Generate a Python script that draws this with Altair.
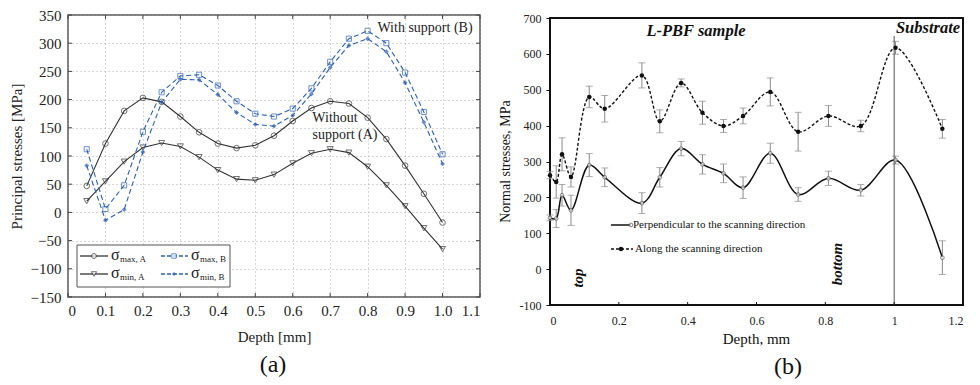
import altair as alt
import pandas as pd

FONT = "Liberation Serif"

# ---------------- Panel (a) data ----------------
depth_a = [0.05, 0.10, 0.15, 0.20, 0.25, 0.30, 0.35, 0.40, 0.45, 0.50,
           0.55, 0.60, 0.65, 0.70, 0.75, 0.80, 0.85, 0.90, 0.95, 1.00]
smax_A = [47, 122, 180, 203, 196, 170, 142, 122, 114, 119,
          136, 162, 185, 197, 193, 168, 130, 83, 33, -18]
smin_A = [20, 55, 90, 115, 123, 117, 98, 75, 59, 57,
          67, 87, 105, 112, 106, 81, 48, 11, -28, -65]
smax_B = [112, 6, 48, 143, 213, 242, 244, 225, 197, 175,
          170, 184, 220, 267, 308, 322, 300, 248, 178, 103]
smin_B = [83, -14, 5, 107, 195, 236, 235, 209, 177, 156,
          153, 172, 210, 257, 296, 308, 285, 230, 160, 86]
xticks_a = [0, 0.1, 0.2, 0.3, 0.4, 0.5, 0.6, 0.7, 0.8, 0.9, 1.0, 1.1]
yticks_a = [-150, -100, -50, 0, 50, 100, 150, 200, 250, 300, 350]

# ---------------- Panel (b) data ----------------
depth_b = [0, 0.018, 0.035, 0.061, 0.114, 0.159, 0.267, 0.319, 0.381, 0.443,
           0.504, 0.561, 0.64, 0.721, 0.809, 0.903, 1.004, 1.14]
perp = [143, 141, 206, 164, 290, 256, 184, 256, 336, 292,
        267, 227, 323, 208, 253, 220, 304, 32]
perp_err = [8, 25, 30, 42, 32, 26, 29, 27, 20, 27,
            26, 30, 28, 19, 20, 16, 11, 47]
along = [262, 243, 320, 257, 480, 447, 540, 412, 519, 436,
         399, 427, 494, 383, 427, 399, 617, 391]
along_err = [10, 45, 46, 28, 30, 37, 35, 32, 11, 32,
             18, 22, 39, 54, 29, 16, 18, 26]
substrate_depth = [1.0]
substrate_top = [650]
substrate_bottom = [-100]
xticks_b = [0, 0.2, 0.4, 0.6, 0.8, 1, 1.2]
yticks_b = [-100, 0, 100, 200, 300, 400, 500, 600, 700]

WA, HA = 412, 282
WB, HB = 413, 290      # panel (b) group; its frame starts OB px lower
OB = 3
BLUE = "#2b5fb4"
DARK = "#333333"

one = pd.DataFrame({"k": [0]})


def px_rule(x1, x2, y1, y2, **kw):
    return alt.Chart(one).mark_rule(**kw).encode(
        x=alt.value(x1), x2=alt.value(x2), y=alt.value(y1), y2=alt.value(y2))


def px_point(x, y, **kw):
    return alt.Chart(one).mark_point(**kw).encode(x=alt.value(x), y=alt.value(y))


def px_text(x, y, txt, **kw):
    return alt.Chart(one).mark_text(text=txt, font=FONT, **kw).encode(
        x=alt.value(x), y=alt.value(y))


# ---------------- Panel (a) ----------------
df_a = pd.DataFrame({"depth": depth_a, "smax_A": smax_A, "smin_A": smin_A,
                     "smax_B": smax_B, "smin_B": smin_B})

xa_scale = alt.Scale(domain=[0, 1.1], nice=False)
ya_scale = alt.Scale(domain=[-150, 350], nice=False)

xa_axis = alt.Axis(values=xticks_a, title="Depth [mm]", grid=True, gridDash=[1, 3],
                   gridColor="#999999", gridWidth=0.8, ticks=False, tickSize=0,
                   domain=False, labelFont=FONT, labelFontSize=15, labelColor="#222",
                   labelPadding=6, labelOverlap=False, titleFont=FONT, titleFontSize=15,
                   titleFontWeight="normal", titleColor="#222", titleX=206, titleY=39,
                   titleBaseline="middle", titleAlign="center",
                   labelExpr="datum.value == 0 ? '0' : format(datum.value, '.1f')")
ya_axis = alt.Axis(values=yticks_a, title="Principal stresses [MPa]", grid=True,
                   gridDash=[1, 3], gridColor="#999999", gridWidth=0.8, ticks=False,
                   tickSize=0, domain=False, labelFont=FONT, labelFontSize=15,
                   labelColor="#222", labelPadding=7, labelOverlap=False,
                   titleFont=FONT, titleFontSize=15,
                   titleFontWeight="normal", titleColor="#222", titleX=-52, titleY=141,
                   titleAngle=270, titleAlign="center", titleBaseline="middle",
                   format="d")


def xa():
    return alt.X("depth:Q", scale=xa_scale, axis=xa_axis)


def ya(field):
    return alt.Y(f"{field}:Q", scale=ya_scale, axis=ya_axis)


base_a = alt.Chart(df_a)
layers_a = []
styles = [
    ("smax_A", DARK, None, "circle", False, 32),
    ("smin_A", DARK, None, "triangle-down", False, 36),
    ("smax_B", BLUE, [5, 3], "square", False, 26),
    ("smin_B", BLUE, [5, 3], "diamond", True, 24),
]
for field, col, dash, shape, filled, size in styles:
    lkw = dict(color=col, strokeWidth=1.1)
    if dash:
        lkw["strokeDash"] = dash
    layers_a.append(base_a.mark_line(**lkw).encode(x=xa(), y=ya(field)))
    pkw = dict(shape=shape, size=size, strokeWidth=1, color=col, filled=filled)
    if not filled:
        pkw["fill"] = "transparent"
    layers_a.append(base_a.mark_point(**pkw).encode(x=xa(), y=ya(field)))

# inner ticks on all sides
xt_df = pd.DataFrame({"t": xticks_a})
yt_df = pd.DataFrame({"t": yticks_a})
tick_col = "#444"
layers_a += [
    alt.Chart(xt_df).mark_rule(color=tick_col, strokeWidth=1).encode(
        x=alt.X("t:Q", scale=xa_scale, axis=xa_axis), y=alt.value(HA - 4), y2=alt.value(HA)),
    alt.Chart(xt_df).mark_rule(color=tick_col, strokeWidth=1).encode(
        x=alt.X("t:Q", scale=xa_scale, axis=xa_axis), y=alt.value(0), y2=alt.value(4)),
    alt.Chart(yt_df).mark_rule(color=tick_col, strokeWidth=1).encode(
        y=alt.Y("t:Q", scale=ya_scale, axis=ya_axis), x=alt.value(0), x2=alt.value(4)),
    alt.Chart(yt_df).mark_rule(color=tick_col, strokeWidth=1).encode(
        y=alt.Y("t:Q", scale=ya_scale, axis=ya_axis), x=alt.value(WA - 4), x2=alt.value(WA)),
]

# annotations
layers_a += [
    px_text(357, 13, "With support (B)", fontSize=14, color="#222"),
    px_text(267, 103, "Without", fontSize=14, color="#222"),
    px_text(277, 120, "support (A)", fontSize=14, color="#222"),
    px_text(205, 350, "(a)", fontSize=24, color="#111"),
]

# legend (a)
leg = [
    alt.Chart(one).mark_rect(fill="white", stroke="#555", strokeWidth=1).encode(
        x=alt.value(9), x2=alt.value(162), y=alt.value(230), y2=alt.value(272)),
]
rows = [241, 259]
entries = [
    (12, 40, 26, rows[0], DARK, None, "circle", False, 24, "max, A"),
    (12, 40, 26, rows[1], DARK, None, "triangle-down", False, 28, "min, A"),
    (93, 120, 106, rows[0], BLUE, [4, 2], "square", False, 20, "max, B"),
    (93, 120, 106, rows[1], BLUE, [4, 2], "diamond", True, 18, "min, B"),
]
for x1, x2, xm, yy, col, dash, shape, filled, size, sub in entries:
    rkw = dict(color=col, strokeWidth=1.3)
    if dash:
        rkw["strokeDash"] = dash
    leg.append(px_rule(x1, x2, yy, yy, **rkw))
    pkw = dict(shape=shape, size=size, color=col, filled=filled, strokeWidth=1)
    if not filled:
        pkw["fill"] = "white"
    leg.append(px_point(xm, yy, **pkw))
    leg.append(px_text(x2 + 3, yy - 1, "σ", fontSize=16, align="left", color="#222"))
    leg.append(px_text(x2 + 12, yy + 3, sub, fontSize=9, align="left", color="#222"))
layers_a += leg

chart_a = alt.layer(*layers_a).properties(
    width=WA, height=HA,
    view=alt.ViewBackground(stroke="#555555", strokeWidth=1.5))

# ---------------- Panel (b) ----------------
df_b = pd.DataFrame({"depth": depth_b, "perp": perp, "perp_err": perp_err,
                     "along": along, "along_err": along_err})
df_sub = pd.DataFrame({"depth": substrate_depth, "top": substrate_top,
                       "bottom": substrate_bottom})

xb_scale = alt.Scale(domain=[0, 1.2], nice=False)
yb_scale = alt.Scale(domain=[-100, 700], nice=False, range=[HB, OB])
xb_axis = alt.Axis(values=xticks_b, title="Depth, mm", grid=False, ticks=False,
                   tickSize=0, domain=False, labelFont=FONT, labelFontSize=12,
                   labelColor="#222", labelPadding=10, labelOverlap=False,
                   titleFont=FONT, titleFontSize=15,
                   titleFontWeight="normal", titleColor="#111", titleX=206, titleY=33,
                   titleAlign="center", titleBaseline="middle",
                   labelExpr="'' + datum.value")
yb_axis = alt.Axis(values=yticks_b, title="Normal stresses, MPa", grid=False,
                   ticks=True, tickSize=4, tickColor="#111", domain=False,
                   labelFont=FONT, labelFontSize=12, labelColor="#222", labelPadding=5,
                   labelOverlap=False,
                   titleFont=FONT, titleFontSize=14, titleFontWeight="normal",
                   titleColor="#111", titleX=-45, titleY=143 + OB, titleAngle=270,
                   titleAlign="center", titleBaseline="middle",
                   labelExpr="'' + datum.value")


def xb(field="depth"):
    return alt.X(f"{field}:Q", scale=xb_scale, axis=xb_axis)


def yb(field):
    return alt.Y(f"{field}:Q", scale=yb_scale, axis=yb_axis)


base_b = alt.Chart(df_b).transform_calculate(
    perp_lo="datum.perp - datum.perp_err", perp_hi="datum.perp + datum.perp_err",
    along_lo="datum.along - datum.along_err", along_hi="datum.along + datum.along_err")

ERR = "#8a8a8a"
layers_b = [
    # plot frame
    alt.Chart(one).mark_rect(fill="transparent", stroke="#111", strokeWidth=2).encode(
        x=alt.value(0), x2=alt.value(WB), y=alt.value(OB), y2=alt.value(HB)),
]
for s in ["perp", "along"]:
    layers_b.append(base_b.mark_rule(color=ERR, strokeWidth=1).encode(
        x=xb(), y=yb(f"{s}_lo"), y2=f"{s}_hi:Q"))
    layers_b.append(base_b.mark_tick(color=ERR, orient="horizontal", size=7,
                                     thickness=1).encode(x=xb(), y=yb(f"{s}_lo")))
    layers_b.append(base_b.mark_tick(color=ERR, orient="horizontal", size=7,
                                     thickness=1).encode(x=xb(), y=yb(f"{s}_hi")))

# substrate line
layers_b.append(alt.Chart(df_sub).mark_rule(color="#555", strokeWidth=1).encode(
    x=xb(), y=yb("top"), y2="bottom:Q"))

layers_b += [
    base_b.mark_line(color="#111", strokeWidth=1.5, interpolate="catmull-rom").encode(
        x=xb(), y=yb("perp")),
    base_b.mark_line(color="#111", strokeWidth=1.4, strokeDash=[3, 2],
                     interpolate="catmull-rom").encode(x=xb(), y=yb("along")),
    base_b.mark_point(shape="circle", size=14, color="#555", fill="white",
                      filled=False, strokeWidth=1).encode(x=xb(), y=yb("perp")),
    base_b.mark_point(shape="circle", size=20, color="#111", filled=True,
                      opacity=1).encode(x=xb(), y=yb("along")),
]

# inner x ticks
xtb_df = pd.DataFrame({"t": xticks_b})
layers_b.append(alt.Chart(xtb_df).mark_rule(color="#111", strokeWidth=1).encode(
    x=alt.X("t:Q", scale=xb_scale, axis=xb_axis), y=alt.value(HB - 3), y2=alt.value(HB)))

# texts
layers_b += [
    px_text(146, 13 + OB, "L-PBF sample", fontSize=16.5, fontWeight="bold",
            fontStyle="italic", color="#111"),
    px_text(378, 10 + OB, "Substrate", fontSize=16.5, fontWeight="bold",
            fontStyle="italic", color="#111"),
    px_text(28, 260 + OB, "top", fontSize=15, fontWeight="bold", fontStyle="italic",
            angle=270, color="#111"),
    px_text(287, 246 + OB, "bottom", fontSize=15, fontWeight="bold", fontStyle="italic",
            angle=270, color="#111"),
    px_text(238, 349 + OB, "(b)", fontSize=24, color="#111"),
]

# legend (b)
L1, L2 = 207 + OB, 231 + OB
layers_b += [
    px_rule(61, 81, L1, L1, color="#111", strokeWidth=1.5),
    px_point(81, L1, shape="circle", size=14, color="#555", fill="white",
             filled=False, strokeWidth=1),
    px_text(83, L1, "Perpendicular to the scanning direction", fontSize=11,
            align="left", color="#111"),
    px_rule(61, 83, L2, L2, color="#111", strokeWidth=1.4, strokeDash=[3, 2]),
    px_point(71, L2, shape="circle", size=20, color="#111", filled=True, opacity=1),
    px_text(85, L2, "Along the scanning direction", fontSize=11, align="left",
            color="#111"),
]

chart_b = alt.layer(*layers_b).properties(
    width=WB, height=HB,
    view=alt.ViewBackground(strokeOpacity=0))

chart = alt.hconcat(chart_a, chart_b, spacing=70, bounds="flush").properties(
    padding={"left": 0, "top": -1, "right": 0, "bottom": 0},
    background="white")

chart.save("out.html", embed_options={"renderer": "svg", "actions": False})
